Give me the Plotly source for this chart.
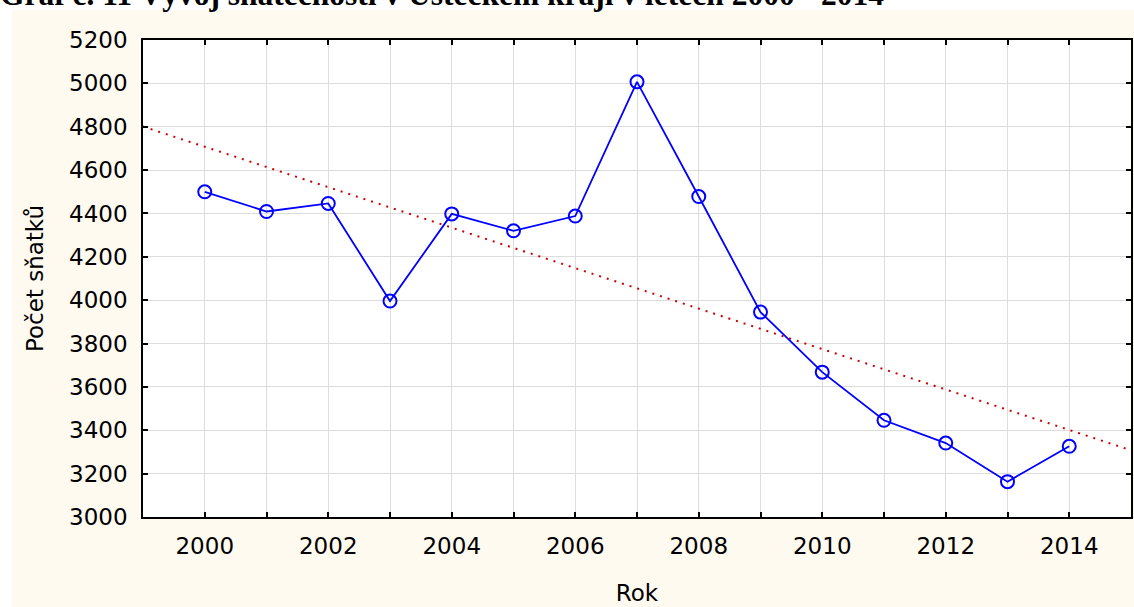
import plotly.graph_objects as go

years = [2000, 2001, 2002, 2003, 2004, 2005, 2006, 2007, 2008, 2009, 2010, 2011, 2012, 2013, 2014]
marriages = [4500, 4409, 4446, 3996, 4398, 4320, 4388, 5007, 4478, 3945, 3668, 3446, 3341, 3163, 3326]
trend_x = [1999, 2015]
trend_y = [4801, 3308]
title_text = "Graf č. 11 Vývoj sňatečnosti v Ústeckém kraji v letech 2000 - 2014"
x_ticks = [2000, 2002, 2004, 2006, 2008, 2010, 2012, 2014]
y_ticks = [3000, 3200, 3400, 3600, 3800, 4000, 4200, 4400, 4600, 4800, 5000, 5200]

W, H = 1134, 607
L, R, T, B = 143, 3, 40, 90
pw = W - L - R
ph = H - T - B

def px_x(p):
    return (p - L) / pw

def px_y(p):
    return 1 - (p - T) / ph

fig = go.Figure()
fig.add_trace(go.Scatter(
    x=trend_x, y=trend_y, mode="lines",
    line=dict(color="#CC0000", width=2, dash="2px,6px"),
    hoverinfo="skip", showlegend=False,
))
fig.add_trace(go.Scatter(
    x=years, y=marriages, mode="lines+markers",
    line=dict(color="#0000FF", width=1.8),
    marker=dict(symbol="circle-open", size=13, color="#0000FF", line=dict(width=2, color="#0000FF")),
    showlegend=False,
))

axis_font = dict(family="DejaVu Sans", size=23, color="black")

fig.update_layout(
    width=W, height=H,
    margin=dict(l=L, r=R, t=T, b=B, pad=0, autoexpand=False),
    paper_bgcolor="#FFFAF0",
    plot_bgcolor="white",
    showlegend=False,
    shapes=[
        dict(type="rect", xref="paper", yref="paper", layer="below",
             x0=px_x(-5), x1=px_x(12), y0=px_y(H + 5), y1=px_y(-5),
             fillcolor="white", line=dict(width=0)),
        dict(type="rect", xref="paper", yref="paper", layer="below",
             x0=px_x(-5), x1=px_x(W + 5), y0=px_y(10), y1=px_y(-5),
             fillcolor="white", line=dict(width=0)),
    ],
    annotations=[dict(
        text="<b>" + title_text + "</b>", xref="paper", yref="paper",
        x=px_x(-2), y=px_y(-6), xanchor="left", yanchor="middle",
        showarrow=False, font=dict(family="Liberation Serif", size=31.5, color="black"),
    )],
)

fig.update_xaxes(
    range=[1999, 2015], tickmode="array", tickvals=x_ticks,
    ticks="inside", ticklen=5, tickwidth=1.5, tickcolor="black",
    minor=dict(dtick=1, tick0=1999, ticks="inside", ticklen=5, tickwidth=1.5, tickcolor="black",
               showgrid=True, gridcolor="#DCDCDC", gridwidth=1),
    showgrid=True, gridcolor="#DCDCDC", gridwidth=1,
    showline=True, linecolor="black", linewidth=1.5, mirror="ticks",
    zeroline=False, tickfont=axis_font, ticklabelstandoff=8, automargin=False,
    title=dict(text="Rok", font=axis_font, standoff=27),
)
fig.update_yaxes(
    range=[3000, 5200], tickmode="array", tickvals=y_ticks,
    ticks="inside", ticklen=5, tickwidth=1.5, tickcolor="black",
    showgrid=True, gridcolor="#DCDCDC", gridwidth=1,
    showline=True, linecolor="black", linewidth=1.5, mirror="ticks",
    zeroline=False, tickfont=axis_font, ticklabelstandoff=9, automargin=False,
    title=dict(text="Počet sňatků", font=axis_font, standoff=19),
)

fig.write_html("out.html", config={"displayModeBar": False},
               post_script="document.body.style.margin='0px';")
